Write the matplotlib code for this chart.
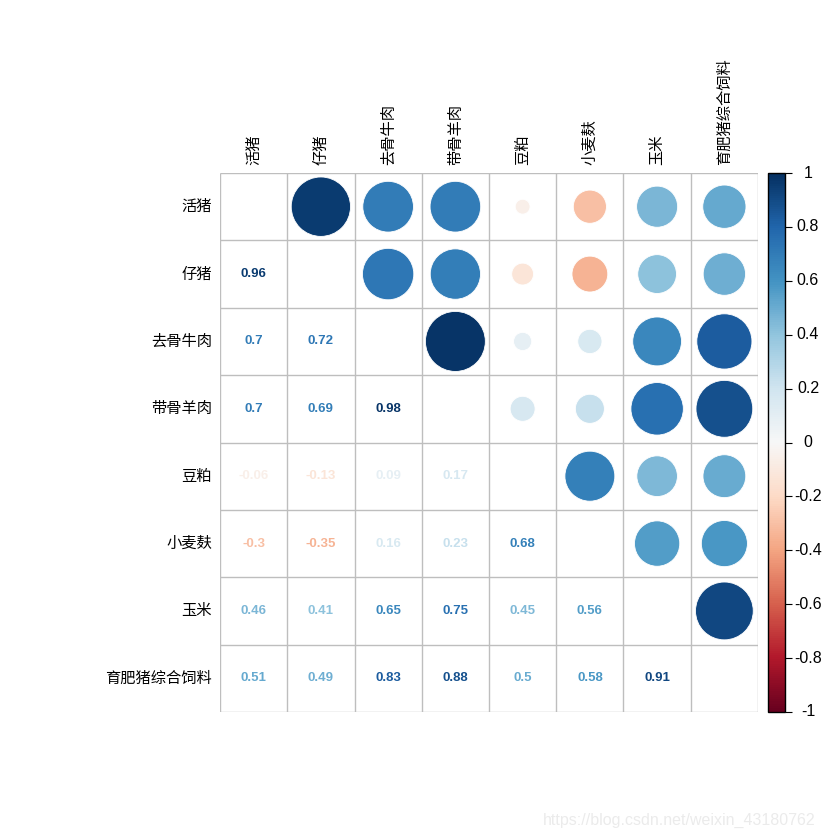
import matplotlib
matplotlib.use("Agg")
import matplotlib.pyplot as plt
import numpy as np
from matplotlib.patches import Circle
from matplotlib.colors import Normalize
import matplotlib.colorbar as mcolorbar

labels = ["活猪", "仔猪", "去骨牛肉", "带骨羊肉", "豆粕", "小麦麸", "玉米", "育肥猪综合饲料"]

# lower-triangle correlations, row by row
r_仔猪 = [0.96]
r_去骨牛肉 = [0.70, 0.72]
r_带骨羊肉 = [0.70, 0.69, 0.98]
r_豆粕 = [-0.06, -0.13, 0.09, 0.17]
r_小麦麸 = [-0.30, -0.35, 0.16, 0.23, 0.68]
r_玉米 = [0.46, 0.41, 0.65, 0.75, 0.45, 0.56]
r_育肥 = [0.51, 0.49, 0.83, 0.88, 0.50, 0.58, 0.91]
lower_rows = [[], r_仔猪, r_去骨牛肉, r_带骨羊肉, r_豆粕, r_小麦麸, r_玉米, r_育肥]

cbar_ticks = [-1, -0.8, -0.6, -0.4, -0.2, 0, 0.2, 0.4, 0.6, 0.8, 1]
cbar_labels = ["-1", "-0.8", "-0.6", "-0.4", "-0.2", "0", "0.2", "0.4", "0.6", "0.8", "1"]

n = len(labels)
M = np.eye(n)
for i, row in enumerate(lower_rows):
    for j, v in enumerate(row):
        M[i, j] = v
        M[j, i] = v

cmap = plt.get_cmap("RdBu")
norm = Normalize(-1, 1)

cjk = ["Noto Sans CJK SC", "DejaVu Sans"]
lat = ["Liberation Sans", "DejaVu Sans"]

W = 840
fig = plt.figure(figsize=(8.4, 8.4), dpi=100)
ax = fig.add_axes([220 / W, (840 - 712) / W, 538 / W, 539 / W])
ax.set_xlim(0, n)
ax.set_ylim(n, 0)
ax.set_axis_off()

for k in range(n + 1):
    ax.plot([k, k], [0, n], color="#BEBEBE", lw=1, zorder=1, solid_capstyle="butt")
    ax.plot([0, n], [k, k], color="#BEBEBE", lw=1, zorder=1, solid_capstyle="butt")

for i in range(n):
    for j in range(n):
        if i == j:
            continue
        v = M[i, j]
        col = cmap(norm(v))
        if j > i:
            r = 0.9 * np.sqrt(abs(v)) / 2
            ax.add_patch(Circle((j + 0.5, i + 0.5), r, facecolor=col, edgecolor="white", lw=0.6, zorder=2))
        else:
            ax.text(j + 0.5, i + 0.5, f"{v:g}", ha="center", va="center", color=col,
                    fontsize=9.5, fontweight="bold", family=lat, zorder=3)

for i, lab in enumerate(labels):
    ax.text(-0.12, i + 0.5, lab, ha="right", va="center", fontsize=11, family=cjk)
    ax.text(i + 0.5, -0.12, lab, ha="center", va="bottom", rotation=90, fontsize=11, family=cjk)

cax = fig.add_axes([768 / W, (840 - 712) / W, 17 / W, 539 / W])
cb = mcolorbar.ColorbarBase(cax, cmap=cmap, norm=norm, orientation="vertical")
cb.set_ticks(cbar_ticks)
cb.set_ticklabels([])
cb.outline.set_linewidth(1)
cb.outline.set_edgecolor("black")
cax.tick_params(axis="y", direction="out", length=5, width=0.8)
for t, lab in zip(cbar_ticks, cbar_labels):
    cax.text(2.35, t, lab, transform=cax.get_yaxis_transform(), ha="center", va="center",
             fontsize=11.5, family=lat)

fig.text(815 / W, 1 - 820 / W, "https://blog.csdn.net/weixin_43180762", ha="right", va="center",
         fontsize=11.5, color="#EBEBEB", family=lat)

fig.savefig("out.png", dpi=100, facecolor="white")
